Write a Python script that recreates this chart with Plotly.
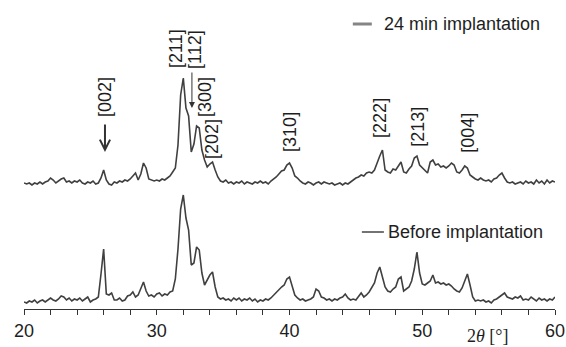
import numpy as np
import plotly.graph_objects as go

# 2theta grid (degrees)
two_theta = np.round(np.arange(20.0, 60.01, 0.2), 1)

# Intensity (a.u.) before implantation
before = [
    7, 6, 8, 7, 9, 6, 8, 9, 7, 9,
    11, 9, 8, 10, 13, 12, 9, 11, 8, 10,
    9, 11, 8, 10, 12, 7, 9, 10, 12, 35,
    60, 15, 14, 16, 9, 9, 11, 8, 9, 13,
    14, 17, 12, 14, 20, 27, 18, 13, 14, 12,
    15, 16, 13, 15, 14, 17, 18, 30, 60, 100,
    114, 91, 79, 44, 46, 62, 59, 36, 24, 29,
    34, 37, 22, 12, 10, 11, 9, 10, 8, 11,
    9, 11, 8, 10, 9, 11, 8, 10, 7, 9,
    8, 10, 9, 11, 14, 16, 19, 22, 24, 30,
    32, 22, 14, 11, 9, 10, 8, 9, 10, 12,
    20, 18, 12, 11, 9, 10, 8, 10, 9, 11,
    12, 15, 11, 9, 10, 9, 12, 16, 12, 14,
    17, 21, 26, 36, 42, 32, 22, 18, 17, 20,
    22, 30, 32, 18, 20, 22, 28, 40, 57, 36,
    25, 24, 26, 28, 34, 26, 27, 25, 26, 24,
    25, 23, 20, 18, 17, 21, 28, 35, 24, 12,
    8, 9, 8, 9, 7, 8, 6, 9, 10, 12,
    14, 16, 12, 11, 10, 12, 11, 13, 9, 10,
    9, 12, 10, 8, 11, 9, 10, 8, 10, 9,
    12,
]

# Intensity (a.u.) after 24 min implantation
after = [
    7, 6, 7, 5, 7, 6, 8, 6, 8, 9,
    12, 10, 7, 9, 11, 12, 8, 9, 7, 9,
    8, 10, 7, 6, 8, 7, 9, 6, 7, 12,
    20, 10, 6, 5, 8, 7, 9, 8, 10, 9,
    11, 14, 17, 10, 16, 27, 22, 11, 10, 9,
    10, 9, 11, 10, 12, 14, 18, 22, 45, 95,
    112, 82, 74, 38, 46, 64, 62, 40, 30, 23,
    26, 28, 20, 13, 9, 8, 10, 7, 8, 6,
    8, 7, 9, 6, 8, 7, 6, 8, 7, 9,
    7, 8, 6, 9, 11, 13, 16, 19, 20, 25,
    27, 22, 14, 12, 9, 7, 6, 8, 7, 5,
    7, 8, 6, 8, 7, 6, 7, 5, 6, 7,
    5, 7, 6, 8, 10, 12, 13, 15, 14, 17,
    18, 17, 20, 28, 34, 40, 20, 18, 17, 21,
    20, 24, 28, 18, 17, 21, 24, 32, 34, 25,
    22, 19, 17, 28, 30, 25, 26, 23, 24, 22,
    24, 27, 25, 18, 17, 20, 24, 22, 15, 13,
    11, 10, 12, 10, 9, 10, 8, 11, 12, 15,
    17, 12, 8, 7, 8, 6, 7, 8, 6, 9,
    7, 8, 6, 10, 7, 9, 6, 10, 7, 9,
    8,
]
after_offset = 119

# Reflection labels
hkl_labels = ["[002]", "[211]", "[112]", "[300]", "[202]", "[310]", "[222]", "[213]", "[004]"]
hkl_x = [26.1, 31.45, 32.88, 33.63, 34.16, 40.03, 46.81, 49.67, 53.43]
hkl_y = [212, 260, 260, 212, 170, 177, 191, 182, 176]

x_ticks = [20, 30, 40, 50, 60]

line_col = "#404040"
text_col = "#1e1e1e"
font_sans = "Liberation Sans, Arial, sans-serif"

fig = go.Figure()
fig.add_trace(go.Scatter(x=two_theta, y=before, mode="lines",
                         line=dict(color=line_col, width=1.6), showlegend=False))
fig.add_trace(go.Scatter(x=two_theta, y=[v + after_offset for v in after], mode="lines",
                         line=dict(color=line_col, width=1.6), showlegend=False))

for lab, lx, ly in zip(hkl_labels, hkl_x, hkl_y):
    fig.add_annotation(x=lx, y=ly, text=lab, textangle=-90, showarrow=False,
                       font=dict(size=18, color=text_col, family=font_sans),
                       xanchor="center", yanchor="middle")

# arrows
fig.add_annotation(x=26.1, y=157, ax=26.1, ay=186, axref="x", ayref="y",
                   xref="x", yref="y", text="", showarrow=True,
                   arrowhead=5, arrowsize=1.0, arrowwidth=2, arrowcolor="#333333")
fig.add_annotation(x=32.65, y=201, ax=32.65, ay=238, axref="x", ayref="y",
                   xref="x", yref="y", text="", showarrow=True,
                   arrowhead=2, arrowsize=1.2, arrowwidth=1, arrowcolor="#333333")

# legend-like labels
fig.add_shape(type="line", x0=44.77, x1=46.2, y0=285, y1=285,
              line=dict(color="#858585", width=3))
fig.add_annotation(x=46.96, y=285, text="24 min implantation", showarrow=False,
                   xanchor="left", yanchor="middle",
                   font=dict(size=18, color=text_col, family=font_sans))
fig.add_shape(type="line", x0=45.45, x1=47.11, y0=77, y1=77,
              line=dict(color="#444444", width=1.5))
fig.add_annotation(x=47.26, y=77, text="Before implantation", showarrow=False,
                   xanchor="left", yanchor="middle",
                   font=dict(size=18, color=text_col, family=font_sans))

# axis title (paper coordinates, at the bottom edge)
fig.add_annotation(x=54.94, xref="x", y=-38 / 309, yref="paper",
                   text="2<i>θ</i> [°]", showarrow=False,
                   xanchor="center", yanchor="bottom", borderpad=0,
                   font=dict(size=18, color=text_col, family="Liberation Serif, Times New Roman, serif"))

fig.update_layout(
    width=566, height=347,
    margin=dict(l=24, r=11, t=0, b=38),
    paper_bgcolor="white", plot_bgcolor="white",
    xaxis=dict(range=[20, 60], tickvals=x_ticks, showgrid=False, zeroline=False,
               showline=True, linecolor="#333333", linewidth=1.2,
               ticks="outside", ticklen=5, tickwidth=1.2, tickcolor="#333333",
               minor=dict(dtick=2, ticks="outside", ticklen=5, tickwidth=1.2, tickcolor="#333333", showgrid=False),
               tickfont=dict(size=18, color=text_col, family=font_sans)),
    yaxis=dict(range=[0, 309], visible=False),
)

fig.write_html("out.html", config={"displayModeBar": False},
               post_script="document.body.style.margin='0';document.body.style.overflow='hidden';")
